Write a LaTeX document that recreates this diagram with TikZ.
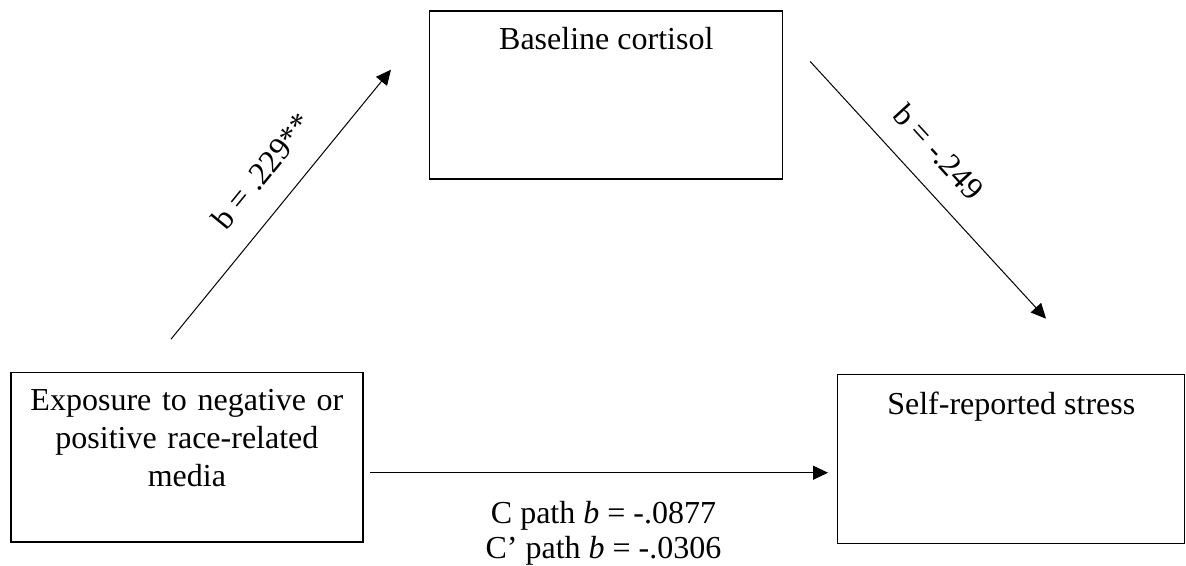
\documentclass[tikz,border=0pt]{standalone}
\usepackage{fontspec}
\setmainfont{Liberation Serif}
\usetikzlibrary{arrows.meta, calc}
\tikzset{
  % a measured variable
  var/.style  = {draw, line width=0.65pt, inner sep=0pt,
                 font=\fontsize{16}{19}\selectfont},
  % a regression path
  pth/.style  = {-{Triangle[length=7.5pt,width=7pt]}, line width=0.5pt},
  % a path coefficient
  coef/.style = {font=\fontsize{16}{17.5}\selectfont, inner sep=0pt},
}
\begin{document}
\begin{tikzpicture}
  \useasboundingbox (0,0) rectangle (20.84,-9.93);
  \node[var, anchor=north west, minimum width=176.5pt,
        text height=19.5pt, text depth=64.5pt] (cort) at (7.54,-0.18)
        {Baseline cortisol};
  \node[var, anchor=north west, text width=176pt, align=center,
        text height=19pt, text depth=65.5pt] (expo) at (0.18,-6.54)
        {Exposure to negative or\\ positive race-related\\ media};
  \node[var, anchor=north west, minimum width=173.5pt,
        text height=20pt, text depth=64.5pt] (stress) at (14.71,-6.57)
        {Self-reported stress};
  % a path
  \coordinate (a0) at ($(expo.north)+(-0.28,0.58)$);
  \coordinate (a1) at ($(cort.south west)+(-0.67,1.93)$);
  \draw[pth] (a0) -- node[coef, sloped, above=12pt, pos=0.54] {b = .229**} (a1);
  % b path
  \coordinate (b0) at ($(cort.north east)+(0.47,-0.90)$);
  \coordinate (b1) at ($(stress.north)+(0.61,0.97)$);
  \draw[pth] (b0) -- node[coef, sloped, above=11pt, pos=0.44] {b = -.249} (b1);
  % c and c' paths
  \coordinate (c0) at ($(expo.east)+(0.11,-0.27)$);
  \coordinate (c1) at (c0 -| stress.west);
  \draw[pth, shorten >=0.16cm] (c0) -- node[coef, below=14pt, align=center]
        {C path \textit{b} = -.0877\\ C’ path \textit{b} = -.0306} (c1);
\end{tikzpicture}
\end{document}
